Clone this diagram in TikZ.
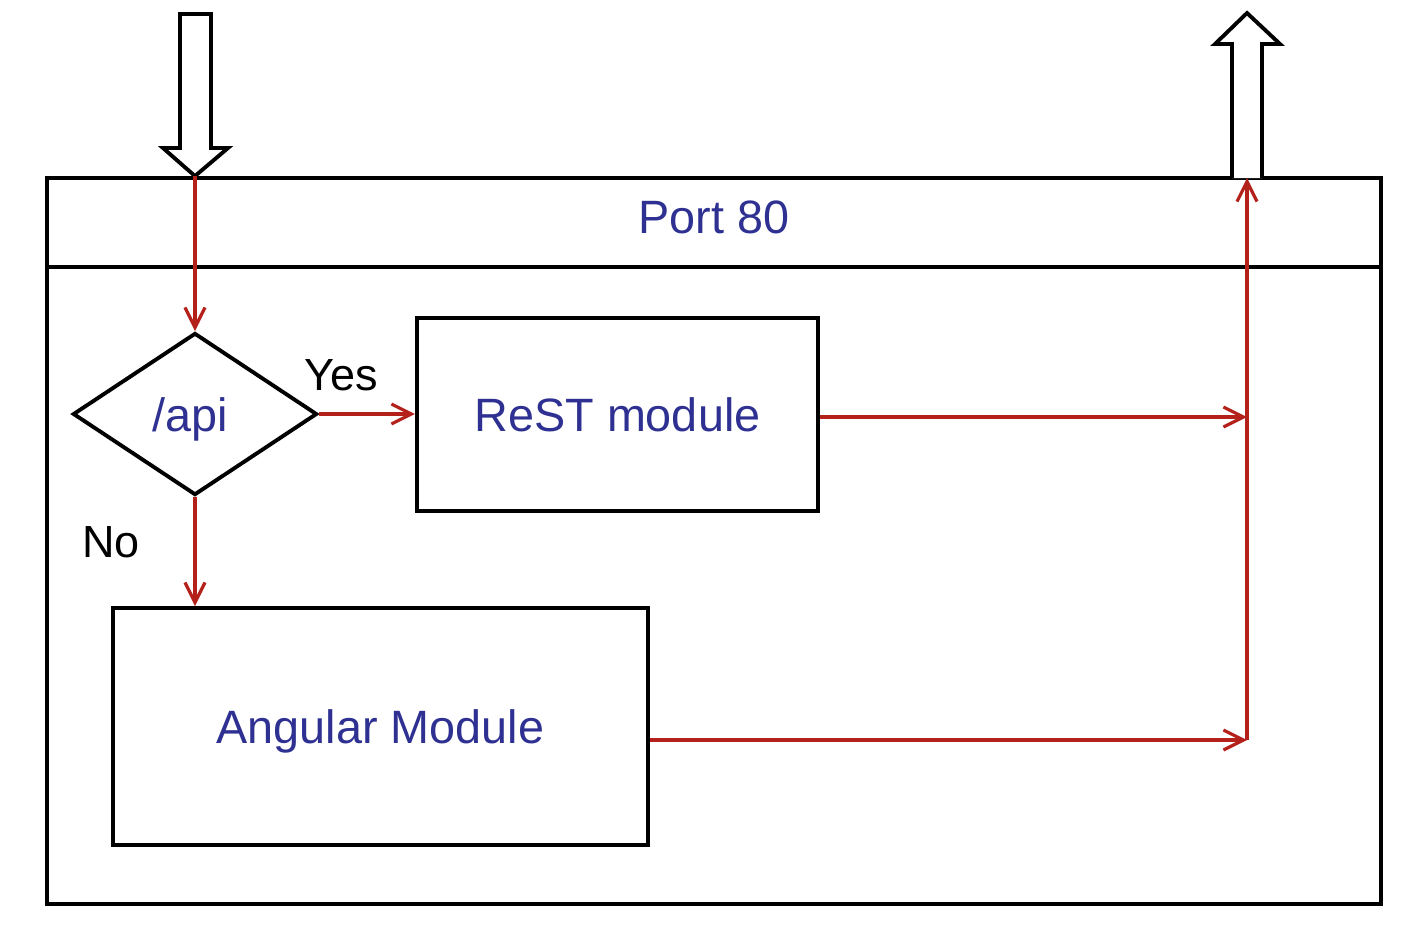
\documentclass[tikz,border=0pt]{standalone}
\usepackage{fontspec}
\setmainfont{Liberation Sans}
\usetikzlibrary{shapes.geometric,arrows.meta,calc}
\definecolor{flowred}{RGB}{180,32,26}
\definecolor{labelblue}{RGB}{46,49,146}
\tikzset{
  box/.style={draw,line width=1.1pt,rectangle,inner sep=0pt,text depth=0pt,font=\fontsize{13.3}{15}\selectfont,text=labelblue},
  boxtitle/.style={inner sep=0pt,font=\fontsize{13.3}{15}\selectfont,text=labelblue},
  flow/.style={draw=flowred,line width=0.9pt,-{Straight Barb[length=0.2cm,width=0.2cm,line width=0.9pt]}},
  hollow/.style={draw,line width=1.1pt,fill=white,line join=miter},
  answer/.style={font=\fontsize{12.8}{14}\selectfont}
}
\begin{document}
\begin{tikzpicture}[x=0.01cm,y=-0.01cm]
\useasboundingbox(0,0)rectangle(1424,941);
%frame
\draw[line width=1.1pt](47,178)rectangle(1381,904);
\node[box,minimum width=13.34cm,minimum height=0.89cm](port)at(714,222.5){};
\node[boxtitle](porttitle)at(714,217){Port 80};
%decision and modules
\node[box,diamond,aspect=1.5,minimum width=2.44cm,minimum height=1.62cm](api)at(195,414){};
\node[boxtitle](apititle)at(190.5,419){/api};
\node[box,minimum width=4.01cm,minimum height=1.93cm](rest)at(617.5,414.5){ReST module};
\node[box,minimum width=5.35cm,minimum height=2.37cm](angular)at(380.5,726.5){Angular Module};
\coordinate(join)at(1247,740);
\coordinate(exit)at(1247,178);
%request in and response out
\draw[hollow](180,14)--(211,14)--(211,148)--(228,148)--(api.north|-port.north)--(163,148)--(180,148)--cycle;
\draw[hollow](1232,178)--(1232,44)--(1215,44)--(1247,13)--(1280,44)--(1262,44)--(1262,178);
%flow
\draw[flow](api.north|-port.north)--(api.north);
\draw[flow](api.east)--(rest.west|-api.east);
\draw[flow](api.south)--(api.south|-angular.north);
\draw[flow](rest.east|-0,417)--(join|-0,417);
\draw[flow](angular.east|-join)--(join);
\draw[flow](join)--(exit);
%labels
\node[answer](yes)at(341,375){Yes};
\node[answer](no)at(111,542){No};
\end{tikzpicture}
\end{document}
